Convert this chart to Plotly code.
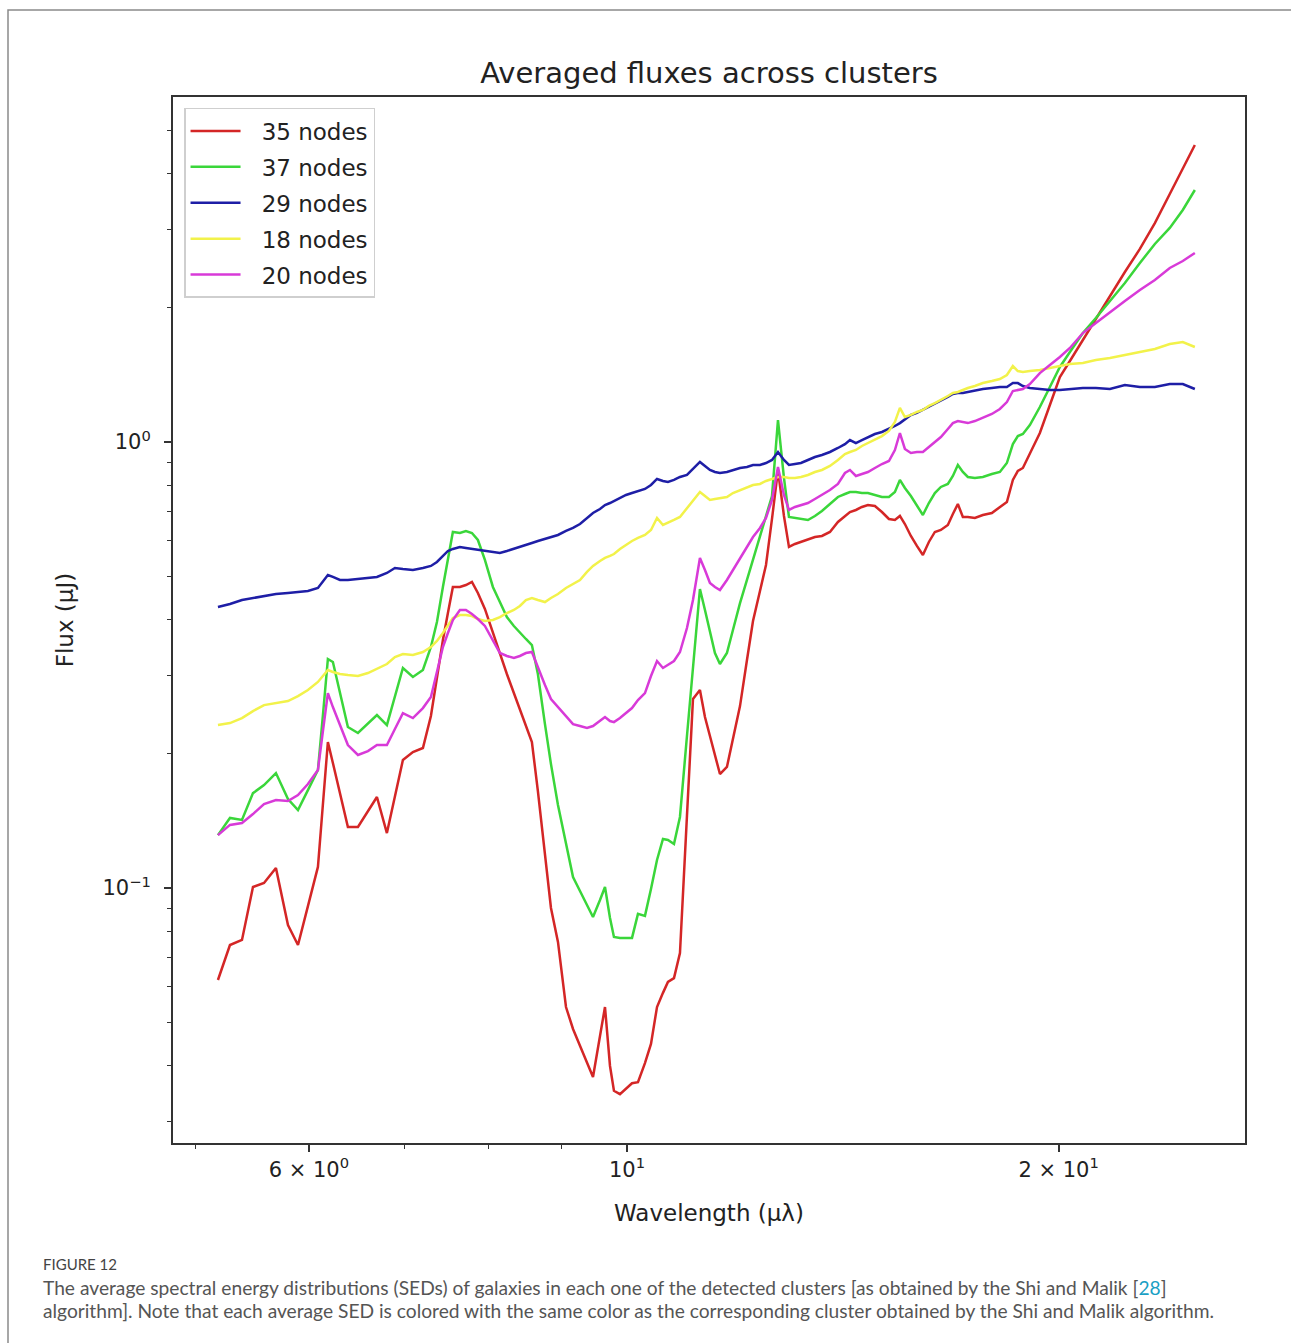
import plotly.graph_objects as go

# Wavelength grid (micron)
wavelength = [
    5.185, 5.286, 5.389, 5.485, 5.583, 5.691, 5.802, 5.896, 5.991, 6.088,
    6.137, 6.186, 6.236, 6.307, 6.388, 6.492, 6.597, 6.693, 6.801, 6.889,
    6.978, 7.091, 7.206, 7.299, 7.370, 7.441, 7.501, 7.561, 7.647, 7.721,
    7.796, 7.871, 7.960, 8.063, 8.154, 8.246, 8.339, 8.420, 8.502, 8.584,
    8.667, 8.766, 8.851, 8.951, 9.067, 9.170, 9.273, 9.378, 9.469, 9.576,
    9.653, 9.731, 9.793, 9.888, 9.984, 10.081, 10.178, 10.293, 10.393, 10.494,
    10.595, 10.680, 10.784, 10.888, 11.011, 11.118, 11.243, 11.334, 11.425, 11.517,
    11.610, 11.741, 11.855, 11.990, 12.125, 12.243, 12.381, 12.501, 12.622, 12.744,
    12.867, 12.971, 13.096, 13.223, 13.372, 13.523, 13.676, 13.853, 14.032, 14.191,
    14.305, 14.443, 14.583, 14.724, 14.890, 15.059, 15.229, 15.376, 15.500, 15.625,
    15.776, 15.929, 16.083, 16.238, 16.395, 16.554, 16.741, 16.876, 17.012, 17.149,
    17.287, 17.483, 17.709, 17.966, 18.199, 18.405, 18.583, 18.732, 18.884, 19.097,
    19.406, 19.721, 20.040, 20.365, 20.794, 21.233, 21.716, 22.245, 22.787, 23.342,
    23.908, 24.413, 24.890,
]

flux_35 = [
    0.0622, 0.0745, 0.0765, 0.1005, 0.1026, 0.1109, 0.0826, 0.0745, 0.0911, 0.1115,
    0.1543, 0.2125, 0.1906, 0.1632, 0.1370, 0.1370, 0.1488, 0.1600, 0.1328, 0.1608,
    0.1936, 0.2018, 0.2060, 0.2430, 0.2973, 0.3598, 0.4136, 0.4731, 0.4731, 0.4779,
    0.4854, 0.4586, 0.4223, 0.3730, 0.3347, 0.3019, 0.2736, 0.2506, 0.2319, 0.2125,
    0.1649, 0.1192, 0.0902, 0.0757, 0.0541, 0.0483, 0.0444, 0.0407, 0.0377, 0.0466,
    0.0541, 0.0399, 0.0351, 0.0345, 0.0354, 0.0365, 0.0367, 0.0405, 0.0447, 0.0541,
    0.0582, 0.0616, 0.0628, 0.0715, 0.1451, 0.2653, 0.2779, 0.2417, 0.2192, 0.1987,
    0.1801, 0.1868, 0.2158, 0.2558, 0.3245, 0.3968, 0.4634, 0.5300, 0.6721, 0.8655,
    0.6826, 0.5816, 0.5906, 0.5968, 0.6061, 0.6124, 0.6156, 0.6285, 0.6617, 0.6826,
    0.6967, 0.7040, 0.7150, 0.7224, 0.7187, 0.6967, 0.6721, 0.6686, 0.6826, 0.6548,
    0.6156, 0.5847, 0.5580, 0.5968, 0.6285, 0.6350, 0.6515, 0.6895, 0.7260, 0.6790,
    0.6790, 0.6755, 0.6860, 0.6932, 0.7150, 0.7337, 0.8220, 0.8610, 0.8745, 0.9398,
    1.0475, 1.2102, 1.3985, 1.5191, 1.693, 1.8965, 2.136, 2.405, 2.709, 3.097,
    3.597, 4.094, 4.632,
]

flux_37 = [
    0.1314, 0.1436, 0.1421, 0.1632, 0.1701, 0.1810, 0.1583, 0.1496, 0.1658, 0.1839,
    0.2442, 0.3262, 0.3212, 0.2736, 0.2296, 0.2226, 0.2331, 0.2442, 0.2319, 0.2694,
    0.3114, 0.2973, 0.3082, 0.3470, 0.3948, 0.4731, 0.5439, 0.6285, 0.6252, 0.6317,
    0.6252, 0.6030, 0.5439, 0.4731, 0.4377, 0.4051, 0.3868, 0.3730, 0.3617, 0.3506,
    0.3019, 0.2331, 0.1896, 0.1535, 0.1255, 0.1058, 0.0985, 0.0912, 0.0861, 0.0940,
    0.1005, 0.0857, 0.0777, 0.0773, 0.0773, 0.0773, 0.0875, 0.0866, 0.0995, 0.1156,
    0.1288, 0.1281, 0.1255, 0.1443, 0.2192, 0.3130, 0.4682, 0.4201, 0.3769, 0.3364,
    0.3178, 0.3364, 0.3789, 0.4354, 0.4905, 0.5439, 0.6124, 0.6826, 0.7567, 1.120,
    0.8305, 0.6790, 0.6755, 0.6721, 0.6686, 0.6826, 0.7004, 0.7260, 0.7529, 0.7645,
    0.7725, 0.7725, 0.7685, 0.7685, 0.7606, 0.7529, 0.7529, 0.7725, 0.8220, 0.7887,
    0.7567, 0.7187, 0.6860, 0.7298, 0.7685, 0.7928, 0.8051, 0.8392, 0.8880, 0.8566,
    0.8348, 0.8305, 0.8348, 0.8477, 0.8566, 0.8972, 0.9892, 1.031, 1.042, 1.091,
    1.198, 1.328, 1.473, 1.591, 1.755, 1.897, 2.071, 2.272, 2.519, 2.780,
    3.019, 3.313, 3.673,
]

flux_29 = [
    0.4267, 0.4332, 0.4423, 0.4469, 0.4515, 0.4562, 0.4586, 0.4610, 0.4634, 0.4706,
    0.4854, 0.5033, 0.4982, 0.4905, 0.4905, 0.4930, 0.4956, 0.4982, 0.5085, 0.5219,
    0.5192, 0.5165, 0.5219, 0.5273, 0.5383, 0.5553, 0.5697, 0.5757, 0.5816, 0.5787,
    0.5757, 0.5727, 0.5697, 0.5668, 0.5638, 0.5697, 0.5757, 0.5816, 0.5877, 0.5937,
    0.5999, 0.6061, 0.6124, 0.6188, 0.6317, 0.6416, 0.6548, 0.6755, 0.6932, 0.7077,
    0.7224, 0.7298, 0.7375, 0.7490, 0.7606, 0.7685, 0.7765, 0.7847, 0.8010, 0.8263,
    0.8178, 0.8135, 0.8220, 0.8348, 0.8435, 0.8700, 0.9019, 0.8836, 0.8655, 0.8566,
    0.8522, 0.8566, 0.8655, 0.8745, 0.8790, 0.8880, 0.8880, 0.8972, 0.9113, 0.9497,
    0.9113, 0.8880, 0.8926, 0.8972, 0.9113, 0.9255, 0.9352, 0.9497, 0.9696, 0.9892,
    1.010, 0.9943, 1.010, 1.0258, 1.0421, 1.0530, 1.0695, 1.0862, 1.1026, 1.1258,
    1.1498, 1.1618, 1.180, 1.1984, 1.2164, 1.2355, 1.2614, 1.2811, 1.2877, 1.2877,
    1.2944, 1.3012, 1.3148, 1.3216, 1.3285, 1.3285, 1.3557, 1.3557, 1.3353, 1.3216,
    1.3148, 1.308, 1.308, 1.3148, 1.3216, 1.3216, 1.3148, 1.3418, 1.3285, 1.3285,
    1.3487, 1.3487, 1.3148,
]

flux_18 = [
    0.2319, 0.2343, 0.2405, 0.2493, 0.2571, 0.2598, 0.2625, 0.2694, 0.2779, 0.2897,
    0.2988, 0.3082, 0.3050, 0.3019, 0.3003, 0.2988, 0.3034, 0.3098, 0.3178, 0.3296,
    0.3347, 0.3330, 0.3382, 0.3470, 0.3580, 0.3730, 0.3887, 0.4031, 0.4093, 0.4093,
    0.4072, 0.4010, 0.3968, 0.3989, 0.4051, 0.4136, 0.4201, 0.4289, 0.4423, 0.4469,
    0.4423, 0.4377, 0.4469, 0.4562, 0.4706, 0.4804, 0.4905, 0.5112, 0.5273, 0.5411,
    0.5496, 0.5553, 0.5609, 0.5757, 0.5877, 0.5999, 0.6093, 0.6188, 0.6350, 0.6755,
    0.6515, 0.6583, 0.6686, 0.6790, 0.7114, 0.7413, 0.7726, 0.7567, 0.7413, 0.7450,
    0.7490, 0.7529, 0.7685, 0.7806, 0.7928, 0.8010, 0.8051, 0.8178, 0.8262, 0.8348,
    0.8348, 0.8305, 0.8305, 0.8348, 0.8435, 0.8566, 0.8655, 0.8836, 0.9113, 0.9398,
    0.9497, 0.9596, 0.9797, 0.9943, 1.010, 1.031, 1.0585, 1.1085, 1.1923, 1.1375,
    1.1498, 1.1678, 1.180, 1.2045, 1.2227, 1.242, 1.2680, 1.2877, 1.2944, 1.308,
    1.3216, 1.3353, 1.3557, 1.3699, 1.3842, 1.4129, 1.4803, 1.4425, 1.4350, 1.4425,
    1.450, 1.4651, 1.4803, 1.4955, 1.5034, 1.527, 1.5429, 1.5668, 1.5914, 1.6164,
    1.6582, 1.6756, 1.6331,
]

flux_20 = [
    0.1314, 0.1385, 0.1399, 0.1465, 0.1543, 0.1575, 0.1567, 0.1616, 0.1710, 0.1839,
    0.2249, 0.2736, 0.2545, 0.2331, 0.2092, 0.1987, 0.2028, 0.2092, 0.2092, 0.2273,
    0.2467, 0.2405, 0.2532, 0.2680, 0.3034, 0.3470, 0.3730, 0.3989, 0.4201, 0.4201,
    0.4114, 0.4010, 0.3868, 0.3598, 0.3364, 0.3313, 0.3279, 0.3313, 0.3364, 0.3382,
    0.3114, 0.2852, 0.2653, 0.2545, 0.2430, 0.2331, 0.2308, 0.2285, 0.2308, 0.2368,
    0.2417, 0.2368, 0.2355, 0.2405, 0.2467, 0.2532, 0.2639, 0.2736, 0.2988, 0.3228,
    0.3114, 0.3162, 0.3228, 0.3382, 0.3828, 0.4423, 0.5496, 0.5165, 0.4829, 0.4731,
    0.4658, 0.4905, 0.5165, 0.5496, 0.5816, 0.6124, 0.6416, 0.6755, 0.7413, 0.8790,
    0.7606, 0.7040, 0.7150, 0.7224, 0.7298, 0.7451, 0.7606, 0.7806, 0.8051, 0.8521,
    0.8655, 0.8392, 0.8477, 0.8566, 0.8745, 0.8926, 0.9066, 0.9596, 1.0475, 0.9646,
    0.9447, 0.9497, 0.9497, 0.9746, 0.9996, 1.0258, 1.0695, 1.1026, 1.1142, 1.1084,
    1.1026, 1.1142, 1.1316, 1.1557, 1.1861, 1.2292, 1.3012, 1.308, 1.3148, 1.3487,
    1.4275, 1.4879, 1.5508, 1.6247, 1.755, 1.8479, 1.9566, 2.071, 2.192, 2.308,
    2.4553, 2.5457, 2.6532,
]

series_names = ["35 nodes", "37 nodes", "29 nodes", "18 nodes", "20 nodes"]
series_values = [flux_35, flux_37, flux_29, flux_18, flux_20]
series_colors = ["#d42626", "#3ad63a", "#1e1ea6", "#f2f24a", "#d83ad8"]

x_tick_vals = [6, 10, 20]
x_tick_text = ["6 × 10<sup>0</sup>", "10<sup>1</sup>", "2 × 10<sup>1</sup>"]
x_minor_vals = [5, 7, 8, 9]
y_tick_vals = [0.1, 1]
y_tick_text = ["10<sup>−1</sup>", "10<sup>0</sup>"]
y_minor_vals = [0.03, 0.04, 0.05, 0.06, 0.07, 0.08, 0.09,
                0.2, 0.3, 0.4, 0.5, 0.6, 0.7, 0.8, 0.9, 2, 3, 4, 5]

FONT = "DejaVu Sans, Verdana, sans-serif"
AX = "#333333"
GAP = "\u2002\u2009"  # spacing between legend line sample and label

fig = go.Figure()
for i, (name, vals, col) in enumerate(zip(series_names, series_values, series_colors)):
    fig.add_trace(go.Scatter(
        x=wavelength, y=vals, mode="lines", name=GAP + name,
        line=dict(color=col, width=2.5), legendgroup=f"g{i}",
    ))

fig.update_layout(
    width=1291, height=1343,
    margin=dict(l=173, r=46, t=97, b=200),
    paper_bgcolor="white", plot_bgcolor="white",
    font=dict(family=FONT, color="#222222"),
    title=dict(text="Averaged fluxes across clusters", x=0.5, xref="paper",
               y=1 - 73 / 1343, yref="container", yanchor="middle", xanchor="center",
               font=dict(size=29, family=FONT, color="#222222")),
    showlegend=True,
    legend=dict(x=0.0103, y=0.9895, xanchor="left", yanchor="top",
                bgcolor="rgba(255,255,255,0.95)", bordercolor="#cfcfcf", borderwidth=1.5,
                font=dict(size=23, family=FONT, color="#222222"),
                itemwidth=50, tracegroupgap=3, traceorder="grouped"),
)

fig.update_xaxes(
    type="log", range=[0.6834, 1.4310],
    showgrid=False, zeroline=False,
    showline=True, linecolor=AX, linewidth=2, mirror=True,
    ticks="outside", ticklen=7, tickwidth=1.5, tickcolor=AX,
    tickmode="array", tickvals=x_tick_vals, ticktext=x_tick_text,
    tickfont=dict(size=21, family=FONT, color="#222222"),
    minor=dict(tickmode="array", tickvals=x_minor_vals, ticks="outside",
               ticklen=4, tickwidth=1.2, tickcolor=AX),
    title=dict(text="Wavelength (μλ)", standoff=24,
               font=dict(size=23, family=FONT, color="#222222")),
)
fig.update_yaxes(
    type="log", range=[-1.5717, 0.7735],
    showgrid=False, zeroline=False,
    showline=True, linecolor=AX, linewidth=2, mirror=True,
    ticks="outside", ticklen=7, tickwidth=1.5, tickcolor=AX,
    tickmode="array", tickvals=y_tick_vals, ticktext=y_tick_text,
    tickfont=dict(size=21, family=FONT, color="#222222"),
    ticklabelstandoff=9,
    minor=dict(tickmode="array", tickvals=y_minor_vals, ticks="outside",
               ticklen=4, tickwidth=1.2, tickcolor=AX),
    title=dict(text="Flux (μJ)", standoff=22,
               font=dict(size=23, family=FONT, color="#222222")),
)

# outer figure frame (journal panel border)
fig.add_shape(type="rect", xref="paper", yref="paper",
              x0=(8 - 173) / 1072, x1=(1292 - 173) / 1072,
              y0=(1143 - 1350) / 1046, y1=(1143 - 10) / 1046,
              line=dict(color="#8a8a8a", width=1.5), fillcolor="rgba(0,0,0,0)", layer="below")

CAP = "Lato, 'Open Sans', sans-serif"
fig.add_annotation(xref="paper", yref="paper", x=(41 - 173) / 1072, y=(1143 - 1264) / 1046,
                   xanchor="left", yanchor="middle", showarrow=False,
                   text="FIGURE 12", font=dict(size=15, family=CAP, color="#444444"))
fig.add_annotation(xref="paper", yref="paper", x=(41 - 173) / 1072, y=(1143 - 1287) / 1046,
                   xanchor="left", yanchor="middle", showarrow=False,
                   text="The average spectral energy distributions (SEDs) of galaxies in each one of the detected clusters [as obtained by the Shi and Malik [<span style='color:#1a9fc4'>28</span>]",
                   font=dict(size=19.2, family=CAP, color="#555555"))
fig.add_annotation(xref="paper", yref="paper", x=(41 - 173) / 1072, y=(1143 - 1310) / 1046,
                   xanchor="left", yanchor="middle", showarrow=False,
                   text="algorithm]. Note that each average SED is colored with the same color as the corresponding cluster obtained by the Shi and Malik algorithm.",
                   font=dict(size=19.2, family=CAP, color="#555555"))

fig.write_html("out.html", config={"displayModeBar": False})
